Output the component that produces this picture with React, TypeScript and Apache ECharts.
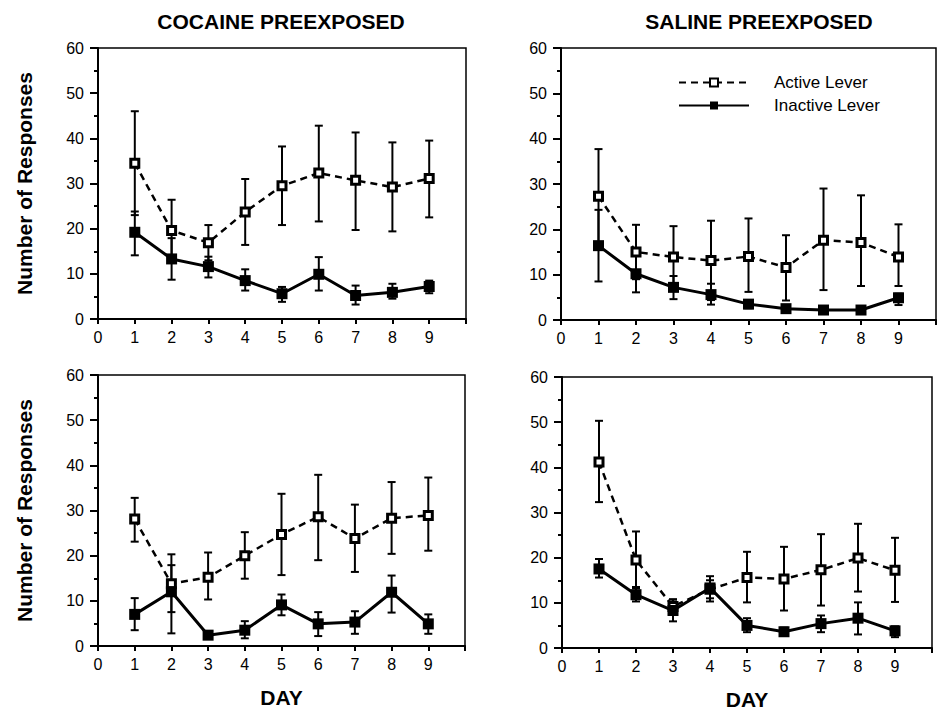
import React, { useEffect, useRef } from "react";
import * as echarts from "echarts";

const days = [1, 2, 3, 4, 5, 6, 7, 8, 9];
const xTickLabels = ["0", "1", "2", "3", "4", "5", "6", "7", "8", "9"];
const yTickLabels = ["0", "10", "20", "30", "40", "50", "60"];
const panelTitles = ["COCAINE PREEXPOSED", "SALINE PREEXPOSED"];
const seriesNames = ["Active Lever", "Inactive Lever"];

// Top-left: cocaine preexposed (upper)
const cocTopActive = [34.5, 19.6, 16.9, 23.7, 29.5, 32.3, 30.7, 29.2, 31.1];
const cocTopActiveHi = [46.0, 26.4, 20.8, 31.0, 38.2, 42.8, 41.3, 39.1, 39.5];
const cocTopActiveLo = [23.0, 12.8, 13.0, 16.4, 20.8, 21.6, 19.7, 19.4, 22.5];
const cocTopInactive = [19.2, 13.3, 11.6, 8.5, 5.6, 9.9, 5.2, 5.9, 7.2];
const cocTopInactiveHi = [23.8, 17.9, 13.8, 11.0, 7.1, 13.7, 7.4, 7.8, 8.5];
const cocTopInactiveLo = [14.1, 8.7, 9.2, 6.3, 3.8, 6.3, 3.2, 4.5, 5.7];

// Top-right: saline preexposed (upper)
const salTopActive = [27.3, 15.0, 13.9, 13.1, 14.0, 11.6, 17.6, 17.1, 13.9];
const salTopActiveHi = [37.7, 21.0, 20.7, 21.9, 22.4, 18.7, 29.0, 27.5, 21.1];
const salTopActiveLo = [17.0, 9.0, 7.2, 4.4, 6.2, 4.3, 6.6, 7.5, 7.5];
const salTopInactive = [16.4, 10.2, 7.2, 5.6, 3.5, 2.5, 2.2, 2.2, 4.9];
const salTopInactiveHi = [24.3, 14.2, 9.7, 8.0, 4.4, 3.0, 2.6, 2.6, 5.8];
const salTopInactiveLo = [8.5, 6.1, 4.6, 3.4, 2.6, 2.0, 1.8, 1.8, 3.3];

// Bottom-left: cocaine preexposed (lower)
const cocBotActive = [28.1, 13.8, 15.2, 20.0, 24.7, 28.6, 23.8, 28.3, 28.9];
const cocBotActiveHi = [32.8, 20.3, 20.7, 25.2, 33.7, 37.9, 31.3, 36.3, 37.3];
const cocBotActiveLo = [23.1, 7.5, 10.3, 14.9, 15.7, 19.0, 16.4, 20.4, 21.1];
const cocBotInactive = [7.0, 12.0, 2.4, 3.5, 9.1, 4.9, 5.3, 11.9, 4.9];
const cocBotInactiveHi = [10.6, 17.9, 2.9, 5.5, 11.4, 7.5, 7.7, 15.6, 7.0];
const cocBotInactiveLo = [3.5, 2.8, 2.0, 1.7, 6.8, 2.2, 2.7, 7.4, 2.7];

// Bottom-right: saline preexposed (lower)
const salBotActive = [41.2, 19.5, 9.2, 13.0, 15.6, 15.3, 17.3, 19.9, 17.2];
const salBotActiveHi = [50.3, 25.8, 10.8, 15.0, 21.3, 22.4, 25.2, 27.5, 24.4];
const salBotActiveLo = [32.3, 13.2, 7.6, 11.0, 10.1, 8.3, 9.4, 12.5, 10.2];
const salBotInactive = [17.5, 11.8, 8.3, 13.3, 5.0, 3.6, 5.4, 6.6, 3.8];
const salBotInactiveHi = [19.7, 13.5, 10.7, 15.9, 6.6, 4.5, 7.2, 10.1, 4.8];
const salBotInactiveLo = [15.6, 10.3, 5.9, 10.3, 3.5, 2.7, 3.5, 3.0, 2.4];

const FONT = "'Liberation Sans', Arial, Helvetica, sans-serif";

type Panel = {
  active: number[]; activeHi: number[]; activeLo: number[];
  inactive: number[]; inactiveHi: number[]; inactiveLo: number[];
};

const panels: Panel[] = [
  { active: cocTopActive, activeHi: cocTopActiveHi, activeLo: cocTopActiveLo, inactive: cocTopInactive, inactiveHi: cocTopInactiveHi, inactiveLo: cocTopInactiveLo },
  { active: salTopActive, activeHi: salTopActiveHi, activeLo: salTopActiveLo, inactive: salTopInactive, inactiveHi: salTopInactiveHi, inactiveLo: salTopInactiveLo },
  { active: cocBotActive, activeHi: cocBotActiveHi, activeLo: cocBotActiveLo, inactive: cocBotInactive, inactiveHi: cocBotInactiveHi, inactiveLo: cocBotInactiveLo },
  { active: salBotActive, activeHi: salBotActiveHi, activeLo: salBotActiveLo, inactive: salBotInactive, inactiveHi: salBotInactiveHi, inactiveLo: salBotInactiveLo },
];

const grids = [
  { left: 98, right: 473, top: 48, bottom: 392 },
  { left: 561, right: -5, top: 48, bottom: 391 },
  { left: 98, right: 474, top: 375, bottom: 65 },
  { left: 562, right: 7, top: 377, bottom: 63 },
];

function errorRender(params: any, api: any) {
  const x = api.value(0);
  const lo = api.value(1);
  const hi = api.value(2);
  const pHi = api.coord([x, hi]);
  const pLo = api.coord([x, lo]);
  const w = 4;
  const st = { stroke: "#000", lineWidth: 2 };
  return {
    type: "group",
    children: [
      { type: "line", shape: { x1: pHi[0], y1: pHi[1], x2: pLo[0], y2: pLo[1] }, style: st },
      { type: "line", shape: { x1: pHi[0] - w, y1: pHi[1], x2: pHi[0] + w, y2: pHi[1] }, style: st },
      { type: "line", shape: { x1: pLo[0] - w, y1: pLo[1], x2: pLo[0] + w, y2: pLo[1] }, style: st },
    ],
  };
}

export default function App() {
  const ref = useRef<HTMLDivElement>(null);
  useEffect(() => {
    if (!ref.current) return;
    const chart = echarts.init(ref.current, undefined, { renderer: "svg" });

    const xAxes = grids.map((_, i) => ({
      type: "value",
      gridIndex: i,
      min: 0,
      max: 10,
      interval: 1,
      name: i >= 2 ? "DAY" : "",
      nameLocation: "middle",
      nameGap: 41,
      nameTextStyle: { fontFamily: FONT, fontSize: 21, fontWeight: "bold", color: "#000" },
      axisLine: { show: true, lineStyle: { color: "#000", width: 2 } },
      axisTick: { show: true, inside: false, length: 5, lineStyle: { color: "#000", width: 2 } },
      axisLabel: {
        margin: 10,
        fontFamily: FONT,
        fontSize: 16,
        color: "#000",
        formatter: (v: number) => (v < xTickLabels.length ? xTickLabels[v] : ""),
      },
      splitLine: { show: false },
    }));

    const yAxes = grids.map((_, i) => ({
      type: "value",
      gridIndex: i,
      min: 0,
      max: 60,
      interval: 10,
      name: i % 2 === 0 ? "Number of Responses" : "",
      nameLocation: "middle",
      nameGap: 63,
      nameTextStyle: { fontFamily: FONT, fontSize: 21, fontWeight: "bold", color: "#000" },
      axisLine: { show: true, lineStyle: { color: "#000", width: 2 } },
      axisTick: { show: true, inside: false, length: 8, lineStyle: { color: "#000", width: 2 } },
      minorTick: { show: true, splitNumber: 2, length: 4, lineStyle: { color: "#000", width: 2 } },
      axisLabel: {
        margin: 14,
        fontFamily: FONT,
        fontSize: 16,
        color: "#000",
        formatter: (v: number) => yTickLabels[Math.round(v / 10)] ?? "",
      },
      splitLine: { show: false },
      minorSplitLine: { show: false },
    }));

    const series: any[] = [];
    panels.forEach((p, i) => {
      series.push({
        type: "custom",
        name: "errA" + i,
        xAxisIndex: i,
        yAxisIndex: i,
        renderItem: errorRender,
        encode: { x: 0, y: [1, 2] },
        data: days.map((d, k) => [d, p.activeLo[k], p.activeHi[k]]),
        z: 1,
        silent: true,
      });
      series.push({
        type: "custom",
        name: "errI" + i,
        xAxisIndex: i,
        yAxisIndex: i,
        renderItem: errorRender,
        encode: { x: 0, y: [1, 2] },
        data: days.map((d, k) => [d, p.inactiveLo[k], p.inactiveHi[k]]),
        z: 1,
        silent: true,
      });
      series.push({
        type: "line",
        name: seriesNames[0],
        xAxisIndex: i,
        yAxisIndex: i,
        data: days.map((d, k) => [d, p.active[k]]),
        symbol: "rect",
        symbolSize: 8,
        lineStyle: { color: "#000", width: 2.5, type: [7, 5] },
        itemStyle: { color: "#fff", borderColor: "#000", borderWidth: 3 },
        z: 3,
      });
      series.push({
        type: "line",
        name: seriesNames[1],
        xAxisIndex: i,
        yAxisIndex: i,
        data: days.map((d, k) => [d, p.inactive[k]]),
        symbol: "rect",
        symbolSize: 11,
        lineStyle: { color: "#000", width: 3 },
        itemStyle: { color: "#000", borderColor: "#000", borderWidth: 0 },
        z: 4,
      });
    });

    chart.setOption({
      animation: false,
      backgroundColor: "#fff",
      title: [
        { text: panelTitles[0], left: 276, top: 6, textAlign: "center", textStyle: { fontFamily: FONT, fontSize: 21, fontWeight: "bold", color: "#000" } },
        { text: panelTitles[1], left: 754, top: 6, textAlign: "center", textStyle: { fontFamily: FONT, fontSize: 21, fontWeight: "bold", color: "#000" } },
      ],
      legend: {
        data: seriesNames,
        orient: "vertical",
        left: 678,
        top: 74,
        itemWidth: 70,
        itemHeight: 10,
        itemGap: 6,
        padding: 0,
        selectedMode: false,
        textStyle: { fontFamily: FONT, fontSize: 17, color: "#000", padding: [0, 0, 0, 20] },
      },
      grid: grids.map((g) => ({
        ...g,
        show: true,
        borderColor: "#000",
        borderWidth: 1.5,
        backgroundColor: "transparent",
        containLabel: false,
      })),
      xAxis: xAxes,
      yAxis: yAxes,
      series,
    });

    return () => chart.dispose();
  }, []);

  return (
    <div
      ref={ref}
      style={{ position: "absolute", left: 0, top: 0, width: 939, height: 711, background: "#fff" }}
    />
  );
}
